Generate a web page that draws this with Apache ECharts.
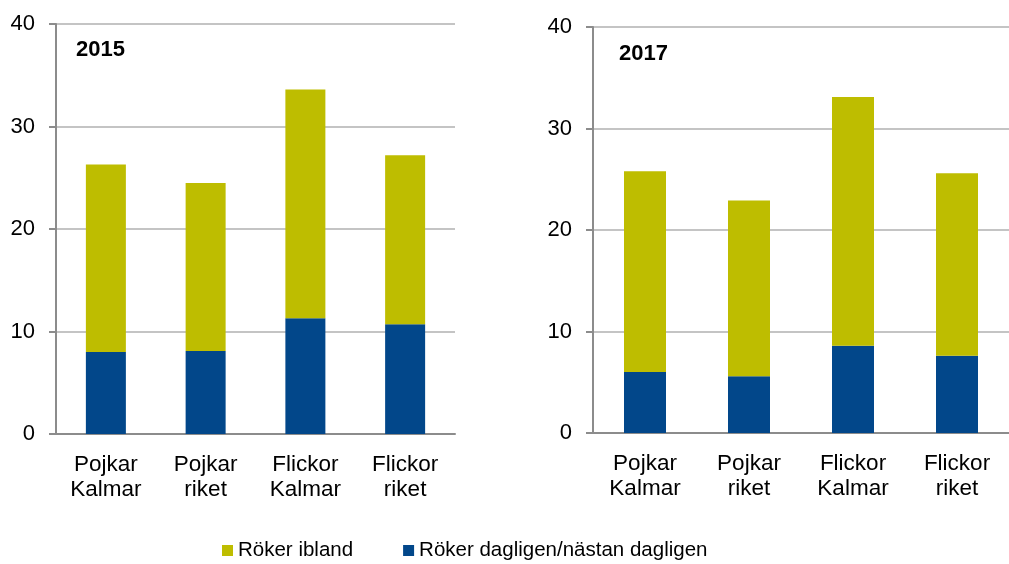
<!DOCTYPE html>
<html>
<head>
<meta charset="utf-8">
<script src="https://cdn.jsdelivr.net/npm/echarts@6/dist/echarts.min.js"></script>
<style>
  html, body { margin: 0; padding: 0; background: #fff; }
  #chart { width: 1009px; height: 564px; }
</style>
</head>
<body>
<div id="chart"></div>
<script>
// kategorier och värden (procent)
const categories = ['Pojkar\nKalmar', 'Pojkar\nriket', 'Flickor\nKalmar', 'Flickor\nriket']
const yTicks = [0, 10, 20, 30, 40]

const dagligen2015 = [8.0, 8.1, 11.3, 10.7]
const ibland2015 = [18.3, 16.4, 22.3, 16.5]

const dagligen2017 = [6.0, 5.6, 8.6, 7.6]
const ibland2017 = [19.8, 17.3, 24.5, 18.0]

const yellow = '#bebd00'
const blue = '#02478a'
const font = 'Liberation Sans, Arial, sans-serif'

const chart = echarts.init(document.getElementById('chart'))

function xAxis(grid) {
  return {
    type: 'category',
    gridIndex: grid,
    data: categories,
    axisTick: { show: false },
    axisLine: { lineStyle: { color: '#8c8c8c', width: 2 } },
    axisLabel: {
      color: '#000',
      fontFamily: font,
      fontSize: 22.5,
      lineHeight: 25,
      margin: 18,
      interval: 0
    }
  }
}

function yAxis(grid) {
  return {
    type: 'value',
    gridIndex: grid,
    min: yTicks[0],
    max: yTicks[yTicks.length - 1],
    interval: 10,
    axisLine: { show: true, lineStyle: { color: '#8c8c8c', width: 2 } },
    axisTick: { show: true, length: 7, lineStyle: { color: '#8c8c8c', width: 2 } },
    splitLine: { lineStyle: { color: '#c4c4c4', width: 2 } },
    axisLabel: {
      color: '#000',
      fontFamily: font,
      fontSize: 22,
      margin: 21
    }
  }
}

const option = {
  animation: false,
  textStyle: { fontFamily: font },
  grid: [
    { left: 56, top: 24, width: 399, height: 410 },
    { left: 593, top: 27, width: 424, height: 406 }
  ],
  title: [
    { text: '2015', left: 71, top: 34, textStyle: { fontSize: 22, fontWeight: 'bold', color: '#000', fontFamily: font } },
    { text: '2017', left: 614, top: 38, textStyle: { fontSize: 22, fontWeight: 'bold', color: '#000', fontFamily: font } }
  ],
  legend: {
    top: 535,
    left: 217,
    itemWidth: 11,
    itemHeight: 11,
    itemGap: 50,
    icon: 'rect',
    textStyle: { fontSize: 20.5, color: '#000', fontFamily: font },
    data: ['Röker ibland', 'Röker dagligen/nästan dagligen']
  },
  xAxis: [xAxis(0), xAxis(1)],
  yAxis: [yAxis(0), yAxis(1)],
  series: [
    {
      name: 'Röker dagligen/nästan dagligen', type: 'bar', stack: 'a',
      xAxisIndex: 0, yAxisIndex: 0, barWidth: 40,
      itemStyle: { color: blue }, data: dagligen2015
    },
    {
      name: 'Röker ibland', type: 'bar', stack: 'a',
      xAxisIndex: 0, yAxisIndex: 0, barWidth: 40,
      itemStyle: { color: yellow }, data: ibland2015
    },
    {
      name: 'Röker dagligen/nästan dagligen', type: 'bar', stack: 'b',
      xAxisIndex: 1, yAxisIndex: 1, barWidth: 42,
      itemStyle: { color: blue }, data: dagligen2017
    },
    {
      name: 'Röker ibland', type: 'bar', stack: 'b',
      xAxisIndex: 1, yAxisIndex: 1, barWidth: 42,
      itemStyle: { color: yellow }, data: ibland2017
    }
  ]
}

chart.setOption(option)
</script>
</body>
</html>
